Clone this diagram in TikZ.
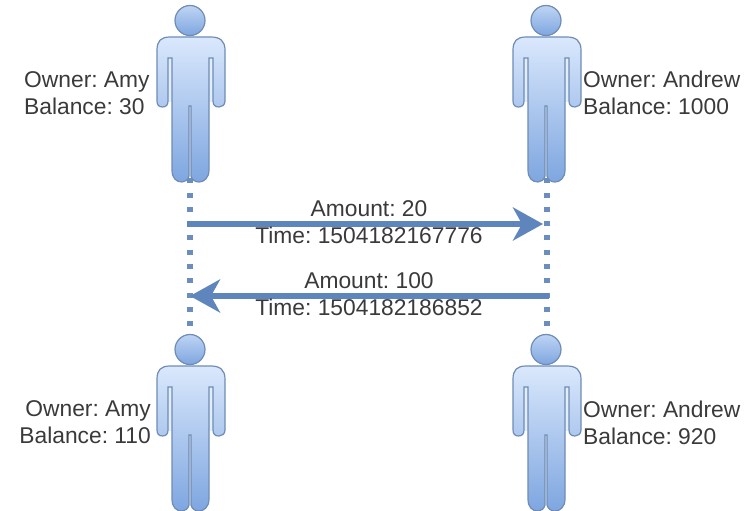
\documentclass[tikz,border=0pt]{standalone}
\usepackage{fontspec}
\setmainfont{Liberation Sans}
\usetikzlibrary{arrows.meta}
\definecolor{edgeb}{HTML}{6C8EBF}
\definecolor{lineb}{HTML}{5F86BC}
\definecolor{topb}{HTML}{DAE8FC}
\definecolor{botb}{HTML}{7EA6E0}
\definecolor{ink}{HTML}{3A3A3A}
\tikzset{
  lbl/.style={text=ink,font=\fontsize{22.8}{27}\selectfont\frenchspacing,inner sep=0pt,align=left},
  lblr/.style={text=ink,font=\fontsize{22.8}{27}\selectfont\frenchspacing,inner sep=0pt,align=right},
  msg/.style={text=ink,font=\fontsize{22.8}{27}\selectfont\frenchspacing,inner sep=0pt,align=center},
  body/.style={draw=edgeb!85!gray,line width=1.2pt,top color=topb,bottom color=botb,shading angle=0},
  slit/.style={fill=topb!75!white},
  head/.style={circle,minimum size=30pt,inner sep=0pt,draw=edgeb!85!gray,line width=1.2pt,top color=topb!70!botb,bottom color=botb},
  life/.style={draw=edgeb,line width=5.5pt,dash pattern=on 5pt off 9.3pt},
  xfer/.style={draw=lineb,line width=6pt,-{Stealth[length=30pt,width=33pt,inset=9pt]}},
}
\newcommand{\person}[3]{%
  \begin{scope}[shift={(#1,#2)}]
    \path[slit] (168,58) rectangle (172,102);
    \path[slit] (209,58) rectangle (213,102);
    \path[body] (157,50)
      .. controls (157,41) and (161,37) .. (170,37)
      -- (211,37)
      .. controls (220,37) and (225,41) .. (225,50)
      -- (225,101)
      .. controls (225,105) and (222,107) .. (219,107)
      .. controls (215,107) and (213,105) .. (213,101)
      -- (213,58) -- (209,58)
      -- (209,170)
      .. controls (209,178) and (204,182) .. (199,182)
      .. controls (195,182) and (192,180) .. (191,176)
      -- (191,106) -- (189,106) -- (189,176)
      .. controls (188,180) and (185,182) .. (182,182)
      .. controls (176,182) and (172,178) .. (172,170)
      -- (172,58) -- (168,58)
      -- (168,101)
      .. controls (168,105) and (166,107) .. (162.5,107)
      .. controls (159,107) and (157,105) .. (157,101)
      -- cycle;
    \node[head] (#3) at (190,20.5) {};
  \end{scope}}
\begin{document}
\begin{tikzpicture}[x=1pt,y=-1pt]
\useasboundingbox (0,0) rectangle (748,511);
\coordinate (amyT) at (190,178.2);
\coordinate (andT) at (547,178.2);
\coordinate (amyB) at (190,327);
\coordinate (andB) at (547,327);
\draw[life] (amyT) -- (amyB);
\draw[life] (andT) -- (andB);
\person{0}{0}{amyTop}
\person{356}{0}{andrewTop}
\person{0}{329}{amyBot}
\person{356}{329}{andrewBot}
\coordinate (a1) at (187,224);
\coordinate (b1) at (543,224);
\coordinate (a2) at (549,296);
\coordinate (b2) at (190,296);
\draw[xfer] (a1) -- (b1);
\draw[xfer] (a2) -- (b2);
\node[lbl,anchor=west] (amyA) at (24,93.3) {Owner: Amy\\Balance: 30};
\node[lbl,anchor=west] (andA) at (583,93.3) {Owner: Andrew\\Balance: 1000};
\node[lblr,anchor=east] (amyC) at (151,422.4) {Owner: Amy\\Balance: 110};
\node[lbl,anchor=west] (andC) at (583,422.4) {Owner: Andrew\\Balance: 920};
\node[msg] (m1) at (369,222.4) {Amount: 20\\Time: 1504182167776};
\node[msg] (m2) at (369,293.8) {Amount: 100\\Time: 1504182186852};
\end{tikzpicture}
\end{document}
